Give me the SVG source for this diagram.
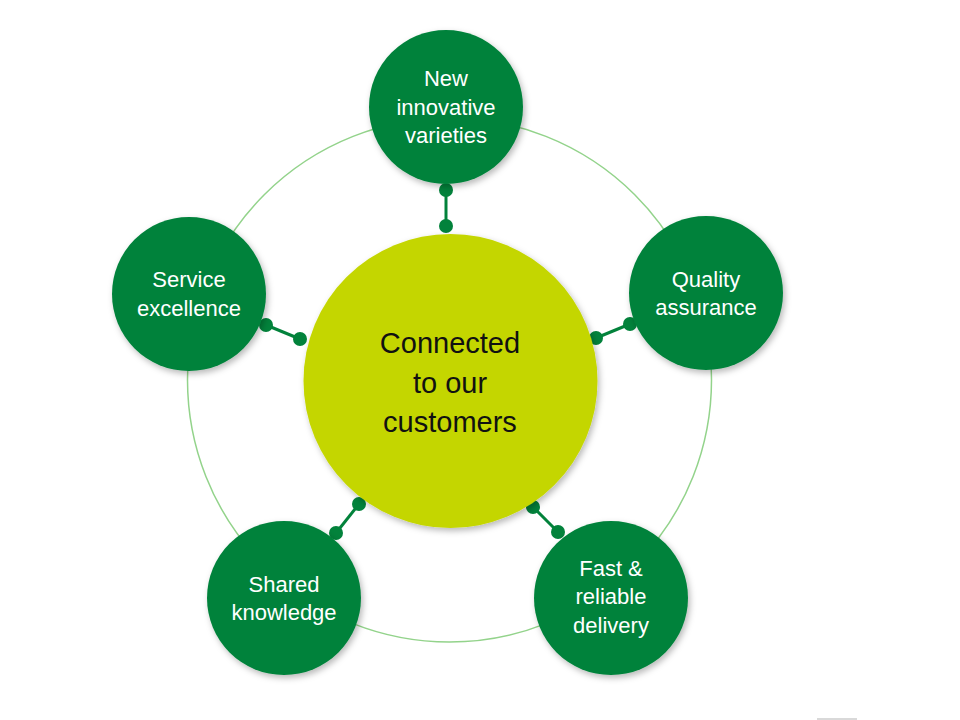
<svg xmlns="http://www.w3.org/2000/svg" width="960" height="720" viewBox="0 0 960 720">
  <defs>
    <filter id="sh" x="-20%" y="-20%" width="150%" height="150%">
      <feDropShadow dx="2" dy="3" stdDeviation="3" flood-color="#000" flood-opacity="0.28"/>
    </filter>
  </defs>
  <style>
    .node { fill: #02823B; filter: url(#sh); }
    .center { fill: #C4D600; filter: url(#sh); }
    .lbl { font-family: "Liberation Sans", Arial, sans-serif; font-size: 22px; fill: #ffffff; text-anchor: middle; }
    .clbl { font-family: "Liberation Sans", Arial, sans-serif; font-size: 29px; fill: #111111; text-anchor: middle; }
    .ring { fill: none; stroke: #93D38B; stroke-width: 1.5; }
    .conn line { stroke: #02823B; stroke-width: 3; }
    .conn circle { fill: #02823B; }
  </style>
  <rect width="960" height="720" fill="#ffffff"/>
  <circle class="ring" cx="449.5" cy="380" r="262"/>

  <g id="connectors" class="conn">
    <line x1="446" y1="190" x2="446" y2="226"/>
    <circle cx="446" cy="190" r="7"/>
    <circle cx="446" cy="226" r="7"/>
    <line x1="266" y1="325" x2="300" y2="339"/>
    <circle cx="266" cy="325" r="7"/>
    <circle cx="300" cy="339" r="7"/>
    <line x1="630" y1="324" x2="596" y2="338"/>
    <circle cx="630" cy="324" r="7"/>
    <circle cx="596" cy="338" r="7"/>
    <line x1="336" y1="533" x2="359" y2="504"/>
    <circle cx="336" cy="533" r="7"/>
    <circle cx="359" cy="504" r="7"/>
    <line x1="558" y1="532" x2="533" y2="507"/>
    <circle cx="558" cy="532" r="7"/>
    <circle cx="533" cy="507" r="7"/>
  </g>

  <g id="center">
    <circle class="center" cx="450.5" cy="381" r="147"/>
    <text class="clbl" x="450" y="353">Connected</text>
    <text class="clbl" x="450" y="393">to our</text>
    <text class="clbl" x="450" y="432">customers</text>
  </g>

  <g id="new-innovative-varieties">
    <circle class="node" cx="446" cy="107" r="77"/>
    <text class="lbl" x="446" y="86">New</text>
    <text class="lbl" x="446" y="115">innovative</text>
    <text class="lbl" x="446" y="143">varieties</text>
  </g>

  <g id="service-excellence">
    <circle class="node" cx="189" cy="294" r="77"/>
    <text class="lbl" x="189" y="287">Service</text>
    <text class="lbl" x="189" y="316">excellence</text>
  </g>

  <g id="quality-assurance">
    <circle class="node" cx="706" cy="293" r="77"/>
    <text class="lbl" x="706" y="287">Quality</text>
    <text class="lbl" x="706" y="315">assurance</text>
  </g>

  <g id="shared-knowledge">
    <circle class="node" cx="284" cy="598" r="77"/>
    <text class="lbl" x="284" y="592">Shared</text>
    <text class="lbl" x="284" y="620">knowledge</text>
  </g>

  <g id="fast-reliable-delivery">
    <circle class="node" cx="611" cy="598" r="77"/>
    <text class="lbl" x="611" y="576">Fast &amp;</text>
    <text class="lbl" x="611" y="604">reliable</text>
    <text class="lbl" x="611" y="633">delivery</text>
  </g>

  <line x1="817" y1="719" x2="857" y2="719" stroke="#cccccc" stroke-width="1.5"/>
</svg>
